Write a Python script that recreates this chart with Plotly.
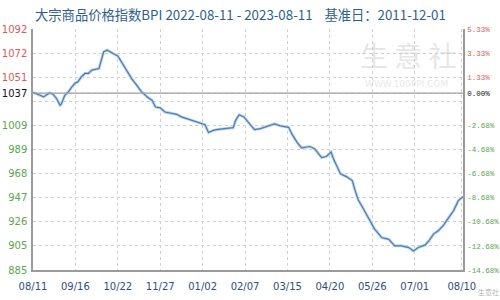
import plotly.graph_objects as go

# ---- data ----
dates = ["2022-08-11","2022-08-14","2022-08-17","2022-08-20","2022-08-23","2022-08-25","2022-08-28","2022-08-31",
         "2022-09-03","2022-09-04","2022-09-07","2022-09-10","2022-09-13","2022-09-16","2022-09-18","2022-09-21",
         "2022-09-24","2022-09-27","2022-09-30","2022-10-03","2022-10-06","2022-10-08","2022-10-10","2022-10-13",
         "2022-10-15","2022-10-18","2022-10-22","2022-10-25","2022-10-30","2022-11-03","2022-11-07","2022-11-11",
         "2022-11-16","2022-11-20","2022-11-23","2022-11-27","2022-12-01","2022-12-05","2022-12-11","2022-12-15",
         "2022-12-19","2022-12-25","2022-12-31","2023-01-04","2023-01-07","2023-01-11","2023-01-15","2023-01-20",
         "2023-01-24","2023-01-28","2023-01-30","2023-02-02","2023-02-06","2023-02-10","2023-02-13","2023-02-15",
         "2023-02-20","2023-02-25","2023-03-01","2023-03-04","2023-03-09","2023-03-13","2023-03-16","2023-03-19",
         "2023-03-23","2023-03-27","2023-03-31","2023-04-03","2023-04-07","2023-04-13","2023-04-17","2023-04-21",
         "2023-04-23","2023-04-26","2023-04-29","2023-05-04","2023-05-09","2023-05-11","2023-05-14","2023-05-17",
         "2023-05-20","2023-05-24","2023-05-28","2023-06-03","2023-06-09","2023-06-14","2023-06-20","2023-06-26",
         "2023-06-30","2023-07-04","2023-07-10","2023-07-13","2023-07-17","2023-07-21","2023-07-25","2023-07-30",
         "2023-08-03","2023-08-07","2023-08-11"]
bpi = [1037.6,1036.7,1035.2,1033.8,1035.8,1037.2,1036.1,1032.4,
       1026.6,1027.5,1035.2,1038.1,1042.4,1045.9,1046.7,1051.1,
       1054.0,1054.0,1056.9,1057.5,1058.3,1065.5,1072.7,1074.1,
       1072.7,1071.1,1069.0,1064.0,1056.9,1049.1,1043.9,1038.3,
       1033.8,1030.9,1025.1,1024.4,1020.8,1020.1,1018.8,1016.6,
       1015.3,1013.0,1011.5,1009.9,1003.2,1005.0,1005.8,1006.5,
       1007.1,1007.3,1013.6,1018.4,1016.6,1011.5,1008.4,1005.6,
       1006.5,1008.2,1009.3,1010.6,1008.9,1008.0,1007.6,1001.5,
       994.9,990.0,990.5,991.1,989.2,981.6,982.5,986.4,
       980.5,973.2,967.5,965.2,961.8,954.6,945.3,940.1,
       934.3,927.2,920.0,912.7,911.2,905.6,905.6,904.1,
       901.2,904.1,906.4,909.9,915.7,918.5,922.8,930.0,
       935.8,944.5,947.9]

base_value = 1037
pct_ticks = [5.33, 3.33, 1.33, -0.67, -2.68, -4.68, -6.68, -8.68, -10.68, -12.68, -14.68]
pct_labels = ["5.33%", "3.33%", "1.33%", "", "-2.68%", "-4.68%", "-6.68%", "-8.68%", "-10.68%", "-12.68%", "-14.68%"]
left_labels = ["1092", "1072", "1051", "", "1009", "989", "968", "947", "926", "905", "885"]
x_ticks = ["2022-08-11","2022-09-16","2022-10-22","2022-11-27","2023-01-02","2023-02-07",
           "2023-03-15","2023-04-20","2023-05-26","2023-07-01","2023-08-10"]
x_labels = ["08/11","09/16","10/22","11/27","01/02","02/07","03/15","04/20","05/26","07/01","08/10"]

RED = "#e05a5a"
GREEN = "#5aa64e"


def col(p):
    return RED if p > 0 else GREEN


left_vals = [base_value * (1 + p / 100) for p in pct_ticks]
left_text = [f'<span style="color:{col(p)}">{t}</span>' if t else "" for p, t in zip(pct_ticks, left_labels)]
right_text = [f'<span style="color:{col(p)}">{t}</span>' if t else "" for p, t in zip(pct_ticks, pct_labels)]
left_vals.append(base_value)
left_text.append('<span style="color:#111111">1037</span>')
right_vals = pct_ticks + [0]
right_text.append('<span style="color:#111111">0.00%</span>')

ymin = base_value * (1 + pct_ticks[-1] / 100)
ymax = base_value * (1 + pct_ticks[0] / 100)

fig = go.Figure()
fig.add_trace(go.Scatter(x=dates, y=bpi, mode="lines",
                         line=dict(color="#bcd5ee", width=3.0), hoverinfo="skip", showlegend=False))
fig.add_trace(go.Scatter(x=dates, y=bpi, mode="lines",
                         line=dict(color="#4a7db3", width=1.2), showlegend=False))
# invisible trace for right axis
fig.add_trace(go.Scatter(x=[dates[0]], y=[0], yaxis="y2", mode="markers",
                         marker=dict(opacity=0), showlegend=False, hoverinfo="skip"))

fig.add_hline(y=base_value, line=dict(color="#a0a0a0", width=1.2))

fig.update_layout(
    width=500, height=300,
    margin=dict(l=33, r=37, t=29, b=30, autoexpand=False),
    paper_bgcolor="white", plot_bgcolor="white",
    font=dict(family="DejaVu Sans", size=10),
    xaxis=dict(type="date", range=["2022-08-11", "2023-08-11"],
               tickvals=x_ticks, ticktext=x_labels,
               tickfont=dict(color="#2d4f7f", size=10, family="DejaVu Sans"),
               showgrid=True, gridcolor="#d0d0d0", griddash="dot", gridwidth=1,
               showline=True, linecolor="#9a9a9a", linewidth=1.5,
               ticks="", ticklabelstandoff=6, zeroline=False, automargin=False),
    yaxis=dict(range=[ymin, ymax], tickvals=left_vals, ticktext=left_text,
               tickfont=dict(size=10, family="DejaVu Sans"),
               showgrid=True, gridcolor="#d0d0d0", griddash="dot", gridwidth=1,
               showline=True, linecolor="#9a9a9a", linewidth=1.5,
               ticks="", zeroline=False, ticklabelstandoff=2, automargin=False),
    yaxis2=dict(range=[pct_ticks[-1], pct_ticks[0]], overlaying="y", side="right",
                tickvals=right_vals, ticktext=right_text,
                tickfont=dict(size=7.5, family="Liberation Mono"),
                showgrid=False, showline=True, linecolor="#9a9a9a", linewidth=1.5,
                ticks="", zeroline=False, ticklabelstandoff=1, automargin=False),
    annotations=[
        dict(text="大宗商品价格指数BPI 2022-08-11 - 2023-08-11    基准日：2011-12-01",
             xref="paper", yref="paper", x=0, y=1, xanchor="left", yanchor="bottom",
             yshift=3, showarrow=False,
             font=dict(family="Noto Sans CJK SC", size=13.3, color="#2f5f8f")),
        dict(text="生 意 社", xref="paper", yref="paper", x=0.99, y=0.985,
             xanchor="right", yanchor="top", showarrow=False,
             font=dict(family="Noto Sans CJK SC", size=28, color="rgba(200,200,200,0.45)")),
        dict(text="WWW.100PPI.COM", xref="paper", yref="paper", x=0.97, y=0.80,
             xanchor="right", yanchor="top", showarrow=False,
             font=dict(family="DejaVu Sans", size=9, color="rgba(200,200,200,0.45)")),
        dict(text="生意社", xref="paper", yref="paper", x=1.0855, y=-0.065,
             xanchor="right", yanchor="top", showarrow=False, borderpad=0,
             font=dict(family="Noto Sans CJK SC", size=7, color="rgba(120,120,120,0.6)")),
    ],
)

fig.write_html("out.html")
